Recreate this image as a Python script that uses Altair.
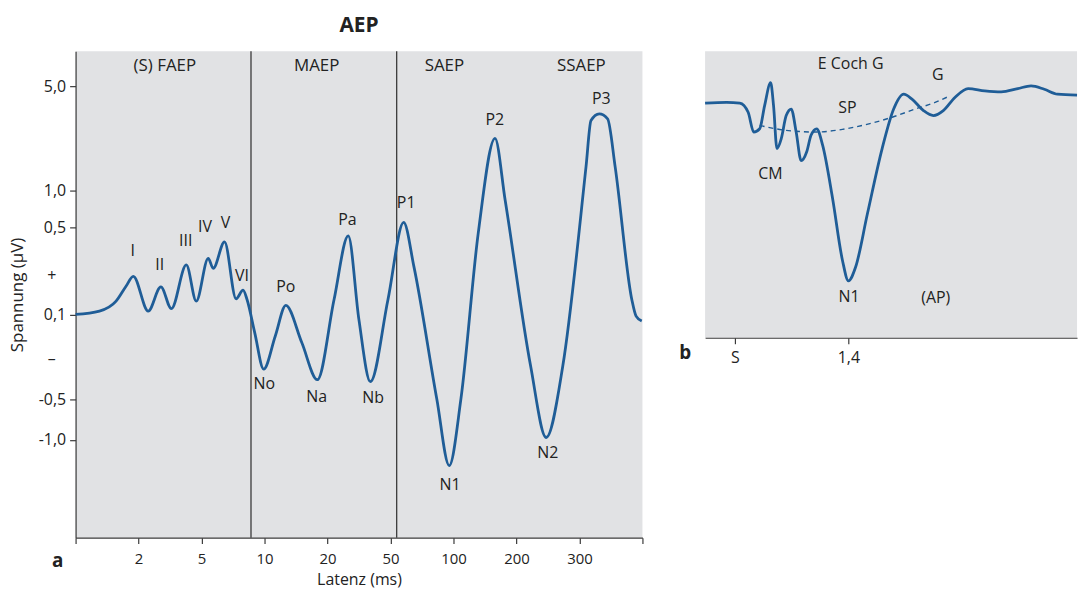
import altair as alt
import pandas as pd

BLUE = "#1f5d97"
BG = "#e1e2e4"
DARK = "#3a3a3a"
TXT = "#222222"
FONT = "Open Sans"

# ---------- Panel a: AEP (x = position on latency axis, y = display units) ----------
a_x = [0, 0.379, 0.643, 0.801, 0.916, 1.153, 1.354, 1.521, 1.758, 1.916, 2.106, 2.185,
       2.365, 2.548, 2.659, 2.722, 2.844, 2.986, 3.171, 3.338, 3.591, 3.839, 4.104, 4.329,
       4.498, 4.681, 4.96, 5.209, 5.371, 5.735, 5.932, 6.118, 6.393, 6.659, 6.82, 7.224,
       7.472, 7.736, 8.104, 8.183, 8.314, 8.447, 8.567, 8.831, 8.899, 8.989]
a_y = [22.45, 22.78, 23.78, 25.28, 26.28, 22.78, 25.22, 23.02, 27.42, 23.78, 28.08, 27.08,
       29.75, 24.02, 24.88, 23.95, 20.62, 16.95, 20.28, 23.35, 19.62, 15.88, 23.95, 30.35,
       21.95, 15.68, 23.95, 31.7, 27.28, 13.95, 7.25, 13.95, 30.62, 40.15, 33.95, 17.28,
       10.07, 17.28, 37.28, 41.95, 42.62, 42.12, 37.28, 23.95, 22.28, 21.78]

x_tick_pos = [0, 1, 2, 3, 4, 5, 6, 7, 8, 9]
x_tick_labels = ["", "2", "5", "10", "20", "50", "100", "200", "300", ""]

y_tick_pos = [45.38, 34.92, 31.22, 22.42, 13.88, 9.82]
y_tick_labels = ["5,0", "1,0", "0,5", "0,1", "-0,5", "-1,0"]

sign_y = [26.28, 17.95]
sign_text = ["+", "–"]

divider_x = [2.785, 5.098]

section_text = ["(S) FAEP", "MAEP", "SAEP", "SSAEP"]
section_x = [1.417, 3.828, 5.856, 8.03]
section_y = [47.38, 47.38, 47.38, 47.38]

peak_text = ["I", "II", "III", "IV", "V", "VI", "Po", "Pa", "P1", "P2", "P3",
             "No", "Na", "Nb", "N1", "N2"]
peak_x = [0.906, 1.336, 1.749, 2.054, 2.381, 2.643, 3.338, 4.317, 5.249, 6.656, 8.346,
          2.997, 3.828, 4.724, 5.945, 7.499]
peak_y = [28.78, 27.38, 29.78, 31.28, 31.62, 26.28, 25.22, 31.95, 33.68, 42.02, 44.12,
          15.45, 14.12, 14.02, 5.28, 8.55]

# ---------- Panel b: E Coch G (x = ms after stimulus S, y = display units) ----------
b_x = [-0.367, -0.102, 0.061, 0.164, 0.233, 0.306, 0.367, 0.441, 0.477, 0.519, 0.572,
       0.633, 0.695, 0.756, 0.817, 0.886, 0.939, 1.009, 1.082, 1.204, 1.327, 1.4, 1.489,
       1.633, 1.816, 1.958, 2.081, 2.184, 2.326, 2.448, 2.57, 2.713, 2.876, 3.081, 3.285,
       3.488, 3.652, 3.815, 3.978, 4.219]
b_y = [23.76, 23.83, 23.76, 22.83, 20.83, 21.16, 23.5, 25.83, 23.5, 19.16, 20.16, 22.5,
       23.16, 20.83, 17.93, 18.83, 20.5, 21.16, 19.5, 14.16, 7.83, 5.76, 7.16, 12.5,
       19.16, 23.16, 24.66, 24.16, 23.0, 22.5, 23.0, 24.33, 25.23, 25.0, 24.9, 25.23,
       25.5, 25.16, 24.66, 24.56]

sp_x = [0.306, 0.633, 1.0, 1.327, 1.652, 1.939, 2.224, 2.469, 2.652]
sp_y = [21.5, 21.0, 20.83, 21.1, 21.66, 22.33, 23.16, 23.83, 24.5]

b_tick_pos = [0, 1.4]
b_tick_labels = ["S", "1,4"]

b_text = ["E Coch G", "G", "SP", "CM", "N1", "(AP)"]
b_text_x = [1.428, 2.502, 1.388, 0.437, 1.408, 2.477]
b_text_y = [27.76, 26.6, 23.23, 16.56, 4.16, 4.06]


def arr(vals):
    return "[" + ",".join(repr(v) for v in vals) + "]"


x_label_expr = f"{arr(x_tick_labels)}[datum.value]"
y_label_expr = f"{arr(y_tick_labels)}[indexof({arr(y_tick_pos)}, datum.value)]"
b_label_expr = f"{arr(b_tick_labels)}[indexof({arr(b_tick_pos)}, datum.value)]"

XA = alt.X("x:Q", scale=alt.Scale(domain=[0, 9], nice=False, zero=False),
           axis=alt.Axis(values=x_tick_pos, labelExpr=x_label_expr, title="Latenz (ms)",
                         grid=False, tickSize=6, labelPadding=8, titlePadding=5,
                         labelFontSize=15, titleFontSize=16, titleFontWeight="normal"))
YA = alt.Y("y:Q", scale=alt.Scale(domain=[0, 48.9], nice=False, zero=False),
           axis=alt.Axis(values=y_tick_pos, labelExpr=y_label_expr, title="Spannung (µV)",
                         grid=False, tickSize=6, labelPadding=4, titlePadding=12,
                         labelFontSize=16, titleFontSize=17, titleFontWeight="normal"))

wave_a = pd.DataFrame({"x": a_x, "y": a_y})
div_df = pd.DataFrame({"x": divider_x})
sec_df = pd.DataFrame({"x": section_x, "y": section_y, "t": section_text})
peak_df = pd.DataFrame({"x": peak_x, "y": peak_y, "t": peak_text})
sign_df = pd.DataFrame({"y": sign_y, "t": sign_text})

line_a = alt.Chart(wave_a).mark_line(interpolate="monotone", color=BLUE, strokeWidth=2.8).encode(x=XA, y=YA)
rules_a = alt.Chart(div_df).mark_rule(color=DARK, strokeWidth=1.3).encode(x=XA)
sec_a = alt.Chart(sec_df).mark_text(fontSize=17, font=FONT, color=TXT).encode(x=XA, y=YA, text="t:N")
peaks_a = alt.Chart(peak_df).mark_text(fontSize=16, font=FONT, color=TXT).encode(x=XA, y=YA, text="t:N")
signs_a = alt.Chart(sign_df).mark_text(fontSize=16, font=FONT, color=TXT).encode(
    x=alt.value(-24), y=YA, text="t:N")
tag_a = alt.Chart(pd.DataFrame({"t": ["a"]})).mark_text(
    fontSize=19, font=FONT, fontWeight="bold", color=TXT).encode(
    x=alt.value(-18), y=alt.value(513), text="t:N")

panel_a = alt.layer(rules_a, line_a, sec_a, peaks_a, signs_a, tag_a).properties(
    width=570, height=489,
    title=alt.TitleParams("AEP", fontSize=21, fontWeight="bold", font=FONT, color=TXT,
                          anchor="middle", offset=15))

XB = alt.X("x:Q", scale=alt.Scale(domain=[-0.367, 4.219], nice=False, zero=False),
           axis=alt.Axis(values=b_tick_pos, labelExpr=b_label_expr, title=None, grid=False,
                         tickSize=6, labelPadding=6, labelFontSize=16))
YB = alt.Y("y:Q", scale=alt.Scale(domain=[0, 29], nice=False, zero=False), axis=None)

wave_b = pd.DataFrame({"x": b_x, "y": b_y})
sp_df = pd.DataFrame({"x": sp_x, "y": sp_y})
btxt_df = pd.DataFrame({"x": b_text_x, "y": b_text_y, "t": b_text})

line_b = alt.Chart(wave_b).mark_line(interpolate="monotone", color=BLUE, strokeWidth=2.8).encode(x=XB, y=YB)
sp_b = alt.Chart(sp_df).mark_line(interpolate="monotone", color=BLUE, strokeWidth=1.4,
                                  strokeDash=[5, 4]).encode(x=XB, y=YB)
txt_b = alt.Chart(btxt_df).mark_text(fontSize=16, font=FONT, color=TXT).encode(x=XB, y=YB, text="t:N")
tag_b = alt.Chart(pd.DataFrame({"t": ["b"]})).mark_text(
    fontSize=19, font=FONT, fontWeight="bold", color=TXT).encode(
    x=alt.value(-20), y=alt.value(303), text="t:N")

panel_b = alt.layer(sp_b, line_b, txt_b, tag_b).properties(width=374, height=288)

chart = alt.hconcat(panel_a, panel_b, spacing=63, bounds="flush").properties(
    padding={"left": 8, "top": 13, "right": 0, "bottom": 0}
).configure_view(fill=BG, stroke=None).configure_axis(
    domainColor=DARK, tickColor=DARK, labelColor=TXT, titleColor=TXT,
    labelFont=FONT, titleFont=FONT, domainWidth=1.2, tickWidth=1.2
)

chart.save("out.html", embed_options={"renderer": "svg", "actions": False})
